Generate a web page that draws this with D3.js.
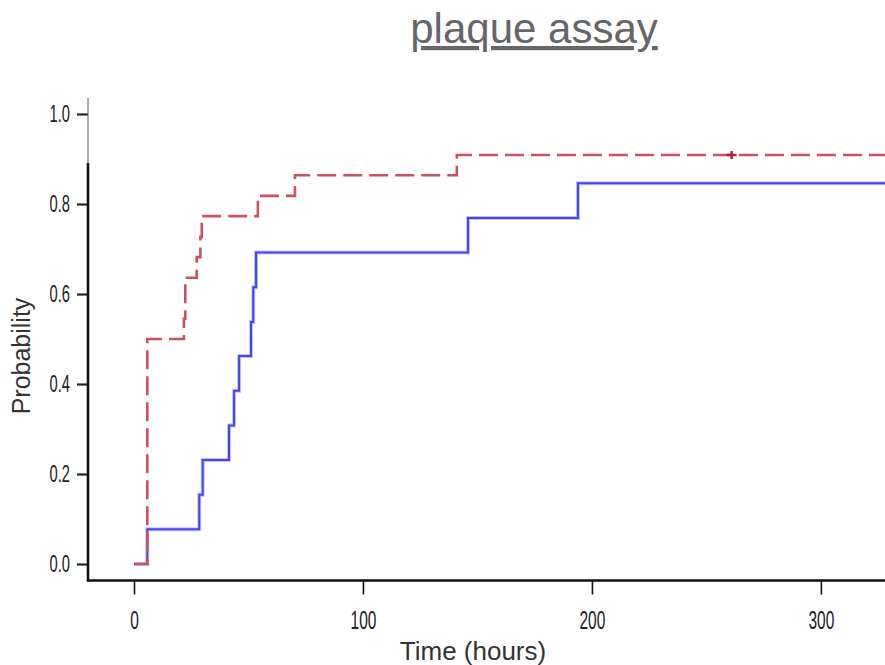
<!DOCTYPE html>
<html>
<head>
<meta charset="utf-8">
<script src="https://cdn.jsdelivr.net/npm/d3@7"></script>
<style>
  body { margin: 0; background: #fff; }
  svg { display: block; }
</style>
</head>
<body>
<div id="container"></div>
<script>
/* CONSTANTS AND GLOBALS */
const width = 885,
  height = 665;

// step curves (time in hours, cumulative probability)
const redTimes = [0, 5.8, 21.8, 22.4, 27.4, 29.0, 29.6, 54.1, 70.3, 141.0];
const redProb = [0, 0.5, 0.545, 0.636, 0.682, 0.727, 0.773, 0.818, 0.864, 0.909];
const blueTimes = [0, 5.8, 28.5, 30.0, 41.5, 43.7, 45.9, 51.1, 52.1, 53.3, 145.9, 193.9];
const blueProb = [0, 0.077, 0.154, 0.231, 0.308, 0.385, 0.462, 0.538, 0.615, 0.692, 0.769, 0.846];
const redCensor = [261];
const xTicks = [0, 100, 200, 300];
const yTicks = [0, 0.2, 0.4, 0.6, 0.8, 1.0];
const xMax = 328;

let svg, xScale, yScale;

function init() {
  xScale = d3.scaleLinear().domain([0, xMax]).range([134, 885]);
  yScale = d3.scaleLinear().domain([0, 1]).range([564, 114]);

  svg = d3.select("#container").append("svg")
    .attr("width", width)
    .attr("height", height);

  // title
  svg.append("text")
    .attr("x", 534)
    .attr("y", 43)
    .attr("text-anchor", "middle")
    .attr("font-family", "Liberation Sans, Arial, sans-serif")
    .attr("font-size", 42)
    .attr("fill", "#666")
    .attr("text-decoration", "underline")
    .text("plaque assay");

  // axes
  const xAxis = d3.axisBottom(xScale).tickValues(xTicks).tickSize(14).tickSizeOuter(0).tickFormat(d3.format("d"));
  const yAxis = d3.axisLeft(yScale).tickValues(yTicks).tickSize(11).tickSizeOuter(0).tickFormat(d3.format(".1f"));

  const gx = svg.append("g")
    .attr("transform", `translate(0,580.5)`)
    .call(xAxis);
  gx.select(".domain").remove();
  gx.selectAll(".tick line").attr("stroke", "#111").attr("stroke-width", 1.6);
  gx.selectAll(".tick text")
    .attr("y", 31)
    .attr("dy", "0.71em")
    .attr("fill", "#222")
    .attr("font-family", "Liberation Sans, Arial, sans-serif")
    .attr("font-size", 25)
    .attr("transform", "scale(0.62,1)");

  const gy = svg.append("g")
    .attr("transform", `translate(88,0)`)
    .call(yAxis);
  gy.select(".domain").remove();
  gy.selectAll(".tick line").attr("stroke", "#222").attr("stroke-width", 2.2);
  gy.selectAll(".tick text")
    .attr("x", -18 / 0.64)
    .attr("fill", "#222")
    .attr("font-family", "Liberation Sans, Arial, sans-serif")
    .attr("font-size", 23)
    .attr("transform", "scale(0.64,1)");

  // axis lines (top part of the y axis is a thin line)
  svg.append("line")
    .attr("x1", 88).attr("x2", 88).attr("y1", 98).attr("y2", 163)
    .attr("stroke", "#555").attr("stroke-width", 1);
  svg.append("line")
    .attr("x1", 88).attr("x2", 88).attr("y1", 163).attr("y2", 581.5)
    .attr("stroke", "#111").attr("stroke-width", 2.6);
  svg.append("line")
    .attr("x1", 87).attr("x2", 885).attr("y1", 580.5).attr("y2", 580.5)
    .attr("stroke", "#111").attr("stroke-width", 2.6);

  // axis titles
  svg.append("text")
    .attr("transform", "translate(30,356) rotate(-90)")
    .attr("text-anchor", "middle")
    .attr("font-family", "Liberation Sans, Arial, sans-serif")
    .attr("font-size", 25)
    .attr("fill", "#333")
    .text("Probability");

  svg.append("text")
    .attr("x", 473)
    .attr("y", 660)
    .attr("text-anchor", "middle")
    .attr("font-family", "Liberation Sans, Arial, sans-serif")
    .attr("font-size", 26)
    .attr("fill", "#333")
    .text("Time (hours)");

  draw();
}

function draw() {
  const line = d3.line()
    .x(d => xScale(d[0]))
    .y(d => yScale(d[1]))
    .curve(d3.curveStepAfter);

  const toPts = (times, probs) => {
    const pts = times.map((t, i) => [t, probs[i]]);
    pts.push([xMax, probs[probs.length - 1]]);
    return pts;
  };

  // blue under red
  svg.append("path")
    .datum(toPts(blueTimes, blueProb))
    .attr("d", line)
    .attr("fill", "none")
    .attr("stroke", "#c4c4f8")
    .attr("stroke-width", 4);
  svg.append("path")
    .datum(toPts(blueTimes, blueProb))
    .attr("d", line)
    .attr("fill", "none")
    .attr("stroke", "#4444ee")
    .attr("stroke-width", 2);

  svg.append("path")
    .datum(toPts(redTimes, redProb))
    .attr("d", line)
    .attr("fill", "none")
    .attr("stroke", "#cc5060")
    .attr("stroke-width", 2.6)
    .attr("stroke-dasharray", "19,7");

  // censor marks
  const lastRed = redProb[redProb.length - 1];
  svg.selectAll("path.censor")
    .data(redCensor)
    .join("path")
    .attr("class", "censor")
    .attr("d", d => {
      const cx = xScale(d), cy = yScale(lastRed);
      return `M${cx - 5},${cy}H${cx + 5}M${cx},${cy - 4}V${cy + 4}`;
    })
    .attr("stroke", "#b02038")
    .attr("stroke-width", 2.5);
}

init();
</script>
</body>
</html>
